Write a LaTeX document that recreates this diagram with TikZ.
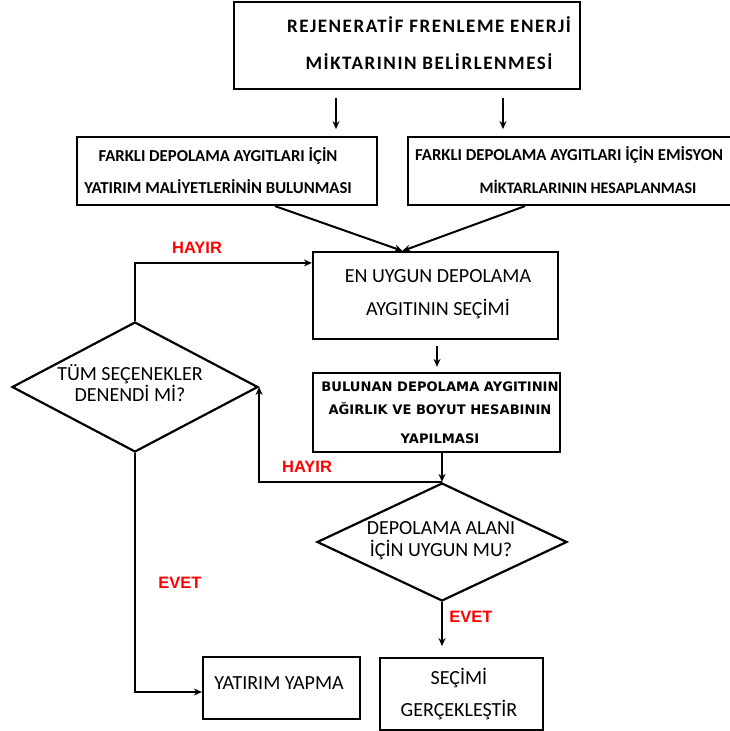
\documentclass[tikz,border=0pt]{standalone}
\usepackage{fontspec}
\usepackage{graphicx}
\setmainfont{Carlito}
\newfontfamily\arialf{Liberation Sans}
\newfontfamily\djvf{DejaVu Sans}
\usetikzlibrary{shapes.geometric,arrows.meta,calc}
\begin{document}
\begin{tikzpicture}[x=1pt,y=-1pt,
  box/.style={draw,line width=2.2pt,inner sep=0pt},
  dia/.style={draw,diamond,line width=2.2pt,inner sep=0pt},
  arr/.style={line width=2pt,-{Stealth[length=8pt,width=7pt]}},
  txt/.style={align=center,inner sep=0pt},
  lab/.style={text=red,inner sep=0pt,font=\arialf\bfseries\fontsize{16.5}{18}\selectfont}]
\useasboundingbox (0,0) rectangle (730,731);
\fill[white] (0,0) rectangle (730,731);

% boxes
\node[box,minimum width=346pt,minimum height=87pt] (top) at (407,45.5) {};
\node[box,minimum width=300pt,minimum height=68pt] (boxL) at (227,171) {};
\node[box,minimum width=360pt,minimum height=68pt] (boxR) at (588,171) {};
\node[box,minimum width=245pt,minimum height=87pt] (choose) at (435.5,295.5) {};
\node[box,minimum width=247pt,minimum height=79pt] (calc) at (436.5,412.5) {};
\node[dia,minimum width=246pt,minimum height=130pt] (d1) at (135,387) {};
\node[dia,minimum width=250pt,minimum height=118pt] (d2) at (442,542) {};
\node[box,minimum width=157pt,minimum height=62pt] (yat) at (281.5,688) {};
\node[box,minimum width=163pt,minimum height=72pt] (sec) at (461.5,694) {};

% texts
\node[txt,font=\bfseries\fontsize{19}{37}\selectfont\addfontfeature{LetterSpace=8}] (topT) at (429,43.5)
  {REJENERATİF FRENLEME ENERJİ\\MİKTARININ BELİRLENMESİ};
\node[txt,font=\bfseries\fontsize{16.7}{32}\selectfont] (boxLT) at (218,171)
  {FARKLI DEPOLAMA AYGITLARI İÇİN\\YATIRIM MALİYETLERİNİN BULUNMASI};
\node[txt,anchor=west,font=\bfseries\fontsize{16.7}{20}\selectfont] (boxRT1) at (415,155)
  {FARKLI DEPOLAMA AYGITLARI İÇİN EMİSYON};
\node[txt,font=\bfseries\fontsize{16}{20}\selectfont] (boxRT2) at (588,187)
  {MİKTARLARININ HESAPLANMASI};
\node[txt,font=\fontsize{20}{33}\selectfont] (chooseT) at (438,294.5)
  {EN UYGUN DEPOLAMA\\AYGITININ SEÇİMİ};
\node[txt,font=\djvf\bfseries\fontsize{13.1}{23}\selectfont] (calcT) at (440,413)
  {BULUNAN DEPOLAMA AYGITININ\\AĞIRLIK VE BOYUT HESABININ\\[6pt]YAPILMASI};
\node[txt,font=\fontsize{20}{20.5}\selectfont] (d1T) at (130,383)
  {TÜM SEÇENEKLER\\DENENDİ Mİ?};
\node[txt,font=\fontsize{20}{22}\selectfont] (d2T) at (441,541)
  {DEPOLAMA ALANI\\İÇİN UYGUN MU?};
\node[txt,font=\fontsize{20}{22}\selectfont] (yatT) at (279,683)
  {YATIRIM YAPMA};
\node[txt,font=\fontsize{20}{32}\selectfont] (secT) at (459,694)
  {SEÇİMİ\\GERÇEKLEŞTİR};

% connectors
\draw[arr] ($(top.south)+(-71,8)$) -- ($(top.south)+(-71,39)$);
\draw[arr] ($(top.south)+(96,8)$) -- ($(top.south)+(96,39)$);
\draw[arr] ($(boxL.south)+(48,0)$) -- ($(choose.north)+(-33,0)$);
\draw[arr] ($(boxR.south)+(-63,0)$) -- ($(choose.north)+(-33,0)$);
\draw[arr] ($(choose.south)+(1.5,6)$) -- ($(calc.north)+(0.5,-5)$);
\draw[arr] (d2.north |- calc.south) -- (d2.north);
\draw[arr] (d2.north) -- (d2.north -| d1.east) -- (d1.east);
\draw[arr] (d1.north) |- ($(choose.north west)+(0,12)$);
\draw[arr] (d1.south) |- ($(yat.west)+(0,4)$);
\draw[arr] (d2.south) -- ++(0,44);

% labels
\node[lab] (h1) at (197,248) {HAYIR};
\node[lab] (h2) at (307,467) {HAYIR};
\node[lab] (e1) at (180,583) {EVET};
\node[lab] (e2) at (471,617) {EVET};
\end{tikzpicture}
\end{document}
